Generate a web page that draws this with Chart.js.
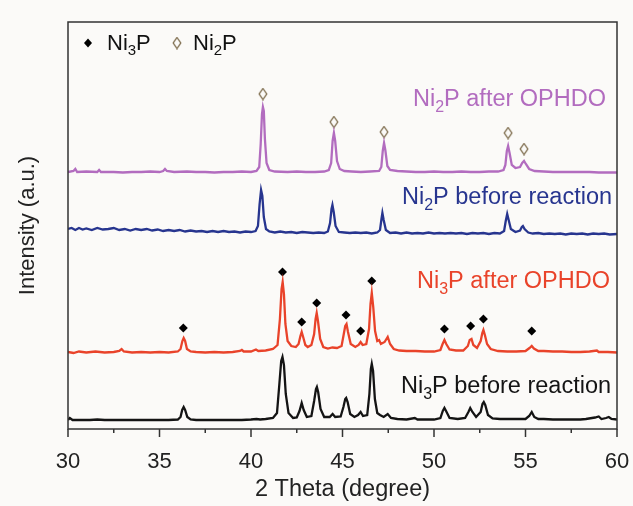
<!DOCTYPE html>
<html>
<head>
<meta charset="utf-8">
<title>XRD Ni3P / Ni2P</title>
<script src="https://cdn.jsdelivr.net/npm/chart.js@4.4.1/dist/chart.umd.min.js"></script>
<style>
  html, body { margin: 0; padding: 0; background: #fbfaf8; }
  canvas { display: block; }
</style>
</head>
<body>
<canvas id="chartXrd" width="633" height="506"></canvas>
<script>
// Patrones (2θ, intensidad desplazada)
const ni2pAfter = [
  [30,257],[30.3,258],[30.4,260],[30.5,257],[31,257.5],[31.6,257],[31.7,259],[31.8,257],[32.5,257],[33,256.5],
  [33.5,257],[34,257],[34.5,257.5],[35,257],[35.2,258],[35.3,260],[35.4,258],[35.8,257],[36.5,257.5],[37,257],
  [37.5,257],[38,256.5],[38.5,257],[39,257],[39.5,257.5],[40,257],[40.3,258],[40.45,262],[40.53,285],[40.6,315],
  [40.65,322],[40.7,318],[40.76,290],[40.85,266],[41,259],[41.3,257.5],[42,257],[42.5,257.5],[43,257],[43.5,257],
  [44,257.5],[44.25,259],[44.38,266],[44.46,288],[44.53,296],[44.6,288],[44.7,268],[44.85,260],[45.1,258],[45.5,257.5],
  [46,257],[46.5,257.5],[47,258],[47.12,262],[47.2,278],[47.27,286],[47.34,279],[47.45,263],[47.6,259],[48,258],
  [48.5,257.5],[49,257],[49.5,257],[50,257.5],[50.5,257],[51,257],[51.5,257.5],[52,257],[52.5,257],[53,257.5],
  [53.5,257.5],[53.8,259],[53.9,264],[53.98,278],[54.05,283],[54.13,276],[54.25,264],[54.45,261],[54.7,262],[54.82,266],
  [54.92,268],[55.02,265],[55.2,260],[55.5,258],[56,257.5],[56.5,257],[57,257],[57.5,257],[58,257],[58.5,257],
  [59,256.5],[59.5,256.5],[60,256.5]
];
const ni2pBefore = [
  [30,200],[30.2,201],[30.4,199],[30.6,201],[30.8,199.5],[31,200.5],[31.3,199],[31.6,201],[31.9,199.5],[32.2,200],
  [32.5,201],[32.8,199],[33.1,200],[33.4,198.5],[33.7,200],[34,199],[34.3,200],[34.6,198.5],[34.9,199.5],[35.2,198],
  [35.5,199],[35.8,198],[36.1,199],[36.4,197.5],[36.7,198.5],[37,197.5],[37.3,198],[37.6,197],[37.9,198],[38.2,197],
  [38.5,198],[38.8,197],[39.1,197.5],[39.4,196.5],[39.7,197.5],[40,197],[40.25,198],[40.38,203],[40.47,225],[40.55,239],
  [40.62,233],[40.7,212],[40.82,200],[41,197.5],[41.3,196.5],[41.6,197.5],[41.9,196.5],[42.2,197],[42.5,196],[42.8,197],
  [43.1,196.5],[43.4,196],[43.7,196.5],[44,196],[44.2,197.5],[44.32,206],[44.4,220],[44.45,224],[44.52,217],[44.62,203],
  [44.8,197],[45.1,196.5],[45.4,196],[45.7,196.5],[46,196],[46.3,196.5],[46.6,195.5],[46.9,196.5],[47.05,199],[47.13,210],
  [47.18,216],[47.25,209],[47.37,199],[47.6,196],[47.9,196.5],[48.2,195.5],[48.5,196.5],[48.8,195.5],[49.1,196],[49.4,195.5],
  [49.7,196.5],[50,195.5],[50.3,196],[50.6,195.5],[50.9,196],[51.2,195.5],[51.5,196],[51.8,195],[52.1,196],[52.4,195.5],
  [52.7,196],[53,195],[53.3,196],[53.6,195.5],[53.83,198],[53.92,208],[54,215],[54.08,209],[54.2,200],[54.45,197],
  [54.7,198.5],[54.8,202],[54.86,203],[54.95,200],[55.15,196.5],[55.4,195.5],[55.7,196],[56,195],[56.3,195.5],[56.6,195],
  [56.9,195.5],[57.2,194.5],[57.5,195.5],[57.8,195],[58.1,195.5],[58.4,194.5],[58.7,195.5],[59,195],[59.3,195.5],[59.6,194.5],
  [60,195]
];
const ni3pAfter = [
  [30,77],[30.3,76],[30.6,77.5],[31,76.5],[31.5,77.5],[32,76.5],[32.5,77],[32.8,78],[32.93,80],[33.05,77.5],
  [33.5,76.5],[34,77],[34.5,76.5],[35,77],[35.5,76.5],[36,77.5],[36.15,80],[36.25,88],[36.32,91],[36.4,88],
  [36.5,80],[36.7,77.5],[37,77],[37.5,76.5],[38,77],[38.5,76.5],[39,77],[39.4,78],[39.5,79],[39.6,77.5],
  [40,77.5],[40.27,79.5],[40.4,78],[40.8,78.5],[41.2,80],[41.45,84],[41.58,110],[41.67,140],[41.73,147],[41.8,135],
  [41.88,105],[42,88],[42.2,83],[42.45,82],[42.6,85],[42.7,93],[42.77,97],[42.85,92],[42.97,84],[43.1,82],
  [43.3,84],[43.45,95],[43.53,110],[43.59,116],[43.66,108],[43.78,90],[43.95,82],[44.2,80.5],[44.45,81.5],[44.7,81],
  [44.95,83],[45.07,95],[45.15,103],[45.22,105],[45.3,97],[45.45,85],[45.7,82],[45.88,84],[45.99,87],[46.1,84],
  [46.3,85],[46.45,100],[46.53,125],[46.6,136],[46.68,122],[46.78,98],[46.9,88],[47,89],[47.1,85],[47.3,87],
  [47.47,92],[47.6,85],[47.8,80],[48.1,78.5],[48.5,78],[49,78],[49.5,77.5],[50,77.5],[50.35,79],[50.47,85],
  [50.57,89],[50.67,85],[50.85,79.5],[51.2,78.5],[51.6,78.5],[51.85,83],[51.95,89],[52.05,90],[52.15,84],[52.35,81],
  [52.55,88],[52.64,96],[52.7,99],[52.78,94],[52.9,85],[53.1,80],[53.5,78],[54,77.5],[54.5,77.5],[55,78],
  [55.22,81],[55.34,83],[55.46,80.5],[55.7,78],[56,78],[56.5,77.5],[57,77.5],[57.5,77],[58,77],[58.5,77.5],
  [58.9,78.5],[59,77],[59.5,77],[60,76.5]
];
const ni3pBefore = [
  [30,9],[30.1,11],[30.25,9],[30.8,9],[31.2,9],[31.6,9.5],[32,9],[32.5,9],[33,9],[33.5,9],
  [34,9],[34.5,9],[35,9],[35.5,9],[36,9.5],[36.15,12],[36.24,19],[36.32,22],[36.4,19],[36.52,12],
  [36.7,9.5],[37,9],[37.5,9],[38,9],[38.5,9],[39,9],[39.5,9],[40,9.5],[40.3,10],[40.5,9.5],
  [40.8,10],[41.2,11],[41.42,16],[41.55,45],[41.65,68],[41.72,72],[41.8,64],[41.9,35],[42.05,16],[42.3,11],
  [42.5,11.5],[42.65,18],[42.77,26],[42.88,19],[43.05,12],[43.3,13],[43.45,28],[43.55,40],[43.6,42],[43.67,37],
  [43.8,20],[44,12],[44.3,12],[44.46,15],[44.6,12],[44.9,12.5],[45.05,22],[45.15,30],[45.2,31],[45.28,27],
  [45.42,15],[45.65,12],[45.85,14],[45.99,17],[46.12,13],[46.35,14],[46.47,35],[46.55,60],[46.6,65],[46.67,58],
  [46.77,30],[46.9,16],[47.05,14],[47.25,12],[47.47,15],[47.65,11],[48,10],[48.5,9.5],[48.95,11],[49.1,9.5],
  [49.5,9.5],[50,9.5],[50.35,11],[50.48,18],[50.57,21],[50.66,18],[50.85,11],[51.3,10],[51.7,11],[51.88,17],
  [51.98,21],[52.1,17],[52.3,12],[52.55,17],[52.65,25],[52.72,27],[52.8,24],[52.95,14],[53.2,10.5],[53.6,10],
  [54,10],[54.5,10],[55,10],[55.2,13],[55.34,17],[55.48,12],[55.7,10],[56,10],[56.5,9.5],[57,9.5],
  [57.5,9.5],[58,9.5],[58.3,10],[58.8,11.5],[59,12.5],[59.15,10],[59.4,11],[59.55,12],[59.7,10],[60,9.5]
];

// Marcadores de fase
const ni3pMarkX = [36.3, 41.72, 42.77, 43.59, 45.19, 45.99, 46.6, 50.57, 52.0, 52.7, 55.34];
const ni3pMarkY = [101, 157, 107, 126, 114, 98, 148, 100, 103, 110, 98];
const ni2pMarkX = [40.65, 44.53, 47.27, 54.05, 54.92];
const ni2pMarkY = [335, 307, 297, 296, 280];

const xTicks = [30, 35, 40, 45, 50, 55, 60];

const colores = {
  ni2pAfter: '#b26cbf',
  ni2pBefore: '#27358f',
  ni3pAfter: '#e9432a',
  ni3pBefore: '#141414'
};

const toXY = arr => arr.map(([x, y]) => ({ x, y }));

// Rombo hueco (estilo ◊)
const rombo = document.createElement('canvas');
rombo.width = 10; rombo.height = 13;
(function () {
  const c = rombo.getContext('2d');
  c.strokeStyle = '#7a6848';
  c.lineWidth = 1.3;
  c.beginPath();
  c.moveTo(5, 1); c.lineTo(8.8, 6.5); c.lineTo(5, 12); c.lineTo(1.2, 6.5); c.closePath();
  c.stroke();
})();

function traza(data, color) {
  return {
    data: toXY(data),
    showLine: true,
    borderColor: color,
    borderWidth: 2.3,
    pointRadius: 0,
    tension: 0
  };
}

// Texto con subíndice: partes [texto, esSubindice]
function textoQuimico(ctx, partes, x, y, size, color) {
  ctx.fillStyle = color;
  ctx.textBaseline = 'alphabetic';
  ctx.textAlign = 'left';
  let cx = x;
  partes.forEach(([t, sub]) => {
    ctx.font = (sub ? Math.round(size * 0.68) : size) + 'px "Liberation Sans", Arial, sans-serif';
    ctx.fillText(t, cx, sub ? y + size * 0.24 : y);
    cx += ctx.measureText(t).width;
  });
}

const marco = {
  id: 'marco',
  afterDraw(chart) {
    const { ctx, chartArea: a, scales: { x } } = chart;
    ctx.save();
    ctx.strokeStyle = '#333';
    ctx.lineWidth = 1.5;
    ctx.strokeRect(a.left, a.top, a.right - a.left, a.bottom - a.top);
    for (let v = 30; v <= 60; v += 2.5) {
      const px = x.getPixelForValue(v);
      const len = v % 5 === 0 ? 8 : 4;
      ctx.beginPath();
      ctx.moveTo(px, a.bottom);
      ctx.lineTo(px, a.bottom + len);
      ctx.stroke();
    }

    // Leyenda
    ctx.fillStyle = '#000';
    ctx.beginPath();
    ctx.moveTo(88, 38.5); ctx.lineTo(92, 43); ctx.lineTo(88, 47.5); ctx.lineTo(84, 43); ctx.closePath();
    ctx.fill();
    textoQuimico(ctx, [['Ni', 0], ['3', 1], ['P', 0]], 107, 50, 22, '#111');
    ctx.drawImage(rombo, 172, 36.5);
    textoQuimico(ctx, [['Ni', 0], ['2', 1], ['P', 0]], 193, 50, 22, '#111');

    // Etiquetas de las curvas
    textoQuimico(ctx, [['Ni', 0], ['2', 1], ['P after OPHDO', 0]], 413, 106, 23.5, colores.ni2pAfter);
    textoQuimico(ctx, [['Ni', 0], ['2', 1], ['P before reaction', 0]], 402, 204, 23.5, colores.ni2pBefore);
    textoQuimico(ctx, [['Ni', 0], ['3', 1], ['P after OPHDO', 0]], 417, 288, 23.5, colores.ni3pAfter);
    textoQuimico(ctx, [['Ni', 0], ['3', 1], ['P before reaction', 0]], 401, 393, 23.5, colores.ni3pBefore);
    ctx.restore();
  }
};

const ctxXrd = document.getElementById('chartXrd').getContext('2d');
new Chart(ctxXrd, {
  type: 'scatter',
  data: {
    datasets: [
      traza(ni3pBefore, colores.ni3pBefore),
      traza(ni3pAfter, colores.ni3pAfter),
      traza(ni2pBefore, colores.ni2pBefore),
      traza(ni2pAfter, colores.ni2pAfter),
      {
        data: ni3pMarkX.map((x, i) => ({ x, y: ni3pMarkY[i] })),
        pointStyle: 'rectRot',
        pointRadius: 4.5,
        backgroundColor: '#000',
        borderColor: '#000',
        borderWidth: 0
      },
      {
        data: ni2pMarkX.map((x, i) => ({ x, y: ni2pMarkY[i] })),
        pointStyle: rombo
      }
    ]
  },
  options: {
    responsive: false,
    animation: false,
    layout: { padding: { top: 22, right: 16, left: 0, bottom: 0 } },
    plugins: { legend: { display: false }, tooltip: { enabled: false } },
    scales: {
      x: {
        type: 'linear',
        min: 30,
        max: 60,
        afterFit: s => { s.height = 77; s.paddingLeft = 0; s.paddingRight = 0; },
        afterBuildTicks: s => { s.ticks = xTicks.map(v => ({ value: v })); },
        ticks: {
          padding: 12,
          color: '#222',
          font: { size: 22, family: '"Liberation Sans", Arial, sans-serif' }
        },
        grid: { display: false },
        border: { display: false },
        title: {
          display: true,
          text: '2 Theta (degree)',
          color: '#222',
          padding: { top: 0, bottom: 2 },
          font: { size: 23.5, family: '"Liberation Sans", Arial, sans-serif' }
        }
      },
      y: {
        min: 0,
        max: 407,
        afterFit: s => { s.width = 68; s.paddingTop = 0; s.paddingBottom = 0; },
        ticks: { display: false },
        grid: { display: false },
        border: { display: false },
        title: {
          display: true,
          text: 'Intensity (a.u.)',
          color: '#222',
          padding: { top: 15, bottom: 0 },
          font: { size: 22, family: '"Liberation Sans", Arial, sans-serif' }
        }
      }
    }
  },
  plugins: [marco]
});
</script>
</body>
</html>
